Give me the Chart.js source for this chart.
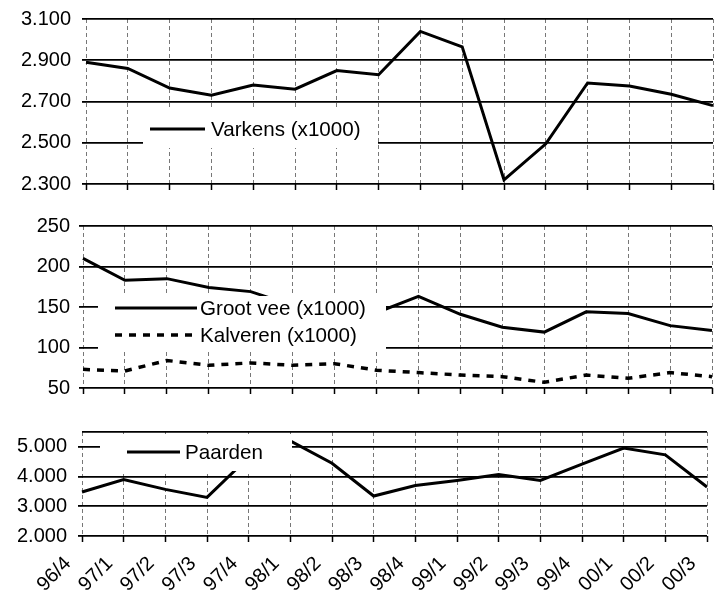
<!DOCTYPE html>
<html>
<head>
<meta charset="utf-8">
<script src="https://cdn.jsdelivr.net/npm/chart.js@4"></script>
<style>
body { margin: 0; background: #fff; }
canvas { position: absolute; left: 0; }
</style>
</head>
<body>
<canvas id="c1" width="726" height="198" style="top:0px"></canvas>
<canvas id="c2" width="726" height="202" style="top:200px"></canvas>
<canvas id="c3" width="726" height="198" style="top:404px"></canvas>
<script>
// kwartalen
const labels = ['96/4','97/1','97/2','97/3','97/4','98/1','98/2','98/3','98/4','99/1','99/2','99/3','99/4','00/1','00/2','00/3'];

const varkens = [2890,2860,2765,2730,2780,2760,2850,2830,3040,2965,2320,2495,2790,2775,2735,2680];
const grootVee = [210,183,185,174,169,152,148,143,163,141,125,119,144,142,127,121];
const kalveren = [73,71,84,78,81,78,80,72,69,66,64,57,66,62,69,64];
const paarden = [3480,3900,3570,3300,4650,5200,4450,3345,3700,3870,4070,3870,4420,4960,4730,3650];

const varkensTicks = [2300,2500,2700,2900,3100];
const runderTicks = [50,100,150,200,250];
const paardenTicks = [2000,3000,4000,5000];

Chart.defaults.font.family = "'Liberation Sans', Arial, sans-serif";
Chart.defaults.font.size = 20;
Chart.defaults.color = '#000';

function fmt(v) {
    if (v >= 1000) return Math.floor(v / 1000) + '.' + String(v % 1000).padStart(3, '0');
    return String(v);
}

// legenda in het plotvlak, met witte achtergrond
const boxLegend = {
    id: 'boxLegend',
    afterDatasetsDraw(chart, args, o) {
        const ctx = chart.ctx;
        ctx.save();
        ctx.fillStyle = '#fff';
        ctx.fillRect(o.box[0], o.box[1], o.box[2], o.box[3]);
        chart.data.datasets.forEach((ds, i) => {
            const y = o.rows[i];
            ctx.strokeStyle = '#000';
            ctx.lineWidth = ds.borderWidth;
            ctx.setLineDash(ds.borderDash || []);
            ctx.beginPath();
            ctx.moveTo(o.line[0], y);
            ctx.lineTo(o.line[1], y);
            ctx.stroke();
            ctx.setLineDash([]);
            ctx.fillStyle = '#000';
            ctx.font = "20.6px 'Liberation Sans', Arial, sans-serif";
            ctx.textBaseline = 'middle';
            ctx.fillText(ds.label, o.textX, y + 1);
        });
        ctx.restore();
    }
};

function xAxis(showLabels, height) {
    return {
        grid: { color: '#777', lineWidth: 1, tickColor: '#000', tickLength: 6, tickWidth: 1.5, tickBorderDash: [] },
        border: { display: false, dash: [4, 3] },
        ticks: { display: showLabels, minRotation: 45, maxRotation: 45, autoSkip: false, padding: 10, labelOffset: -14, font: { size: 20 } },
        afterFit: (s) => { s.height = height; s.paddingLeft = 0; s.paddingRight = 0; }
    };
}

function yAxis(ticks, max, left, pad) {
    return {
        min: ticks[0],
        max: max,
        afterBuildTicks: (s) => {
            const t = ticks.slice();
            if (max > t[t.length - 1]) t.push(max);
            s.ticks = t.map((v) => ({ value: v }));
        },
        ticks: { padding: pad, autoSkip: false, callback: (v) => (ticks.includes(v) ? fmt(v) : '') },
        grid: {
            color: '#000', lineWidth: 1.8, tickLength: 4,
            tickColor: (c) => (c.tick && ticks.includes(c.tick.value) ? '#000' : 'rgba(0,0,0,0)')
        },
        border: { display: false },
        afterFit: (s) => { s.width = left; s.paddingTop = 0; s.paddingBottom = 0; }
    };
}

function lineSet(label, data, dash) {
    return {
        label: label, data: data, borderColor: '#000', borderWidth: dash ? 3.5 : 3,
        borderDash: dash || [], pointRadius: 0, tension: 0, fill: false
    };
}

function makeChart(id, datasets, x, y, padding, legend) {
    return new Chart(document.getElementById(id), {
        type: 'line',
        data: { labels: labels, datasets: datasets },
        options: {
            responsive: false,
            animation: false,
            layout: { padding: padding },
            plugins: { legend: { display: false }, tooltip: { enabled: false }, boxLegend: legend },
            scales: { x: x, y: y }
        },
        plugins: [boxLegend]
    });
}

makeChart('c1', [lineSet('Varkens (x1000)', varkens)],
    xAxis(false, 14), yAxis(varkensTicks, 3100, 86, 11),
    { top: 19, right: 13, left: 0, bottom: 0 },
    { box: [143, 108, 235, 40], rows: [129], line: [150, 205], textX: 211 });

makeChart('c2', [lineSet('Groot vee (x1000)', grootVee), lineSet('Kalveren (x1000)', kalveren, [7, 7])],
    xAxis(false, 14), yAxis(runderTicks, 250, 83, 9),
    { top: 26, right: 14, left: 0, bottom: 0 },
    { box: [98, 96, 288, 56], rows: [108, 135], line: [115, 197], textX: 200 });

makeChart('c3', [lineSet('Paarden', paarden)],
    xAxis(true, 66), yAxis(paardenTicks, 5500, 82, 11),
    { top: 28, right: 19, left: 0, bottom: 0 },
    { box: [100, 30, 192, 37], rows: [48], line: [127, 180], textX: 185 });
</script>
</body>
</html>
